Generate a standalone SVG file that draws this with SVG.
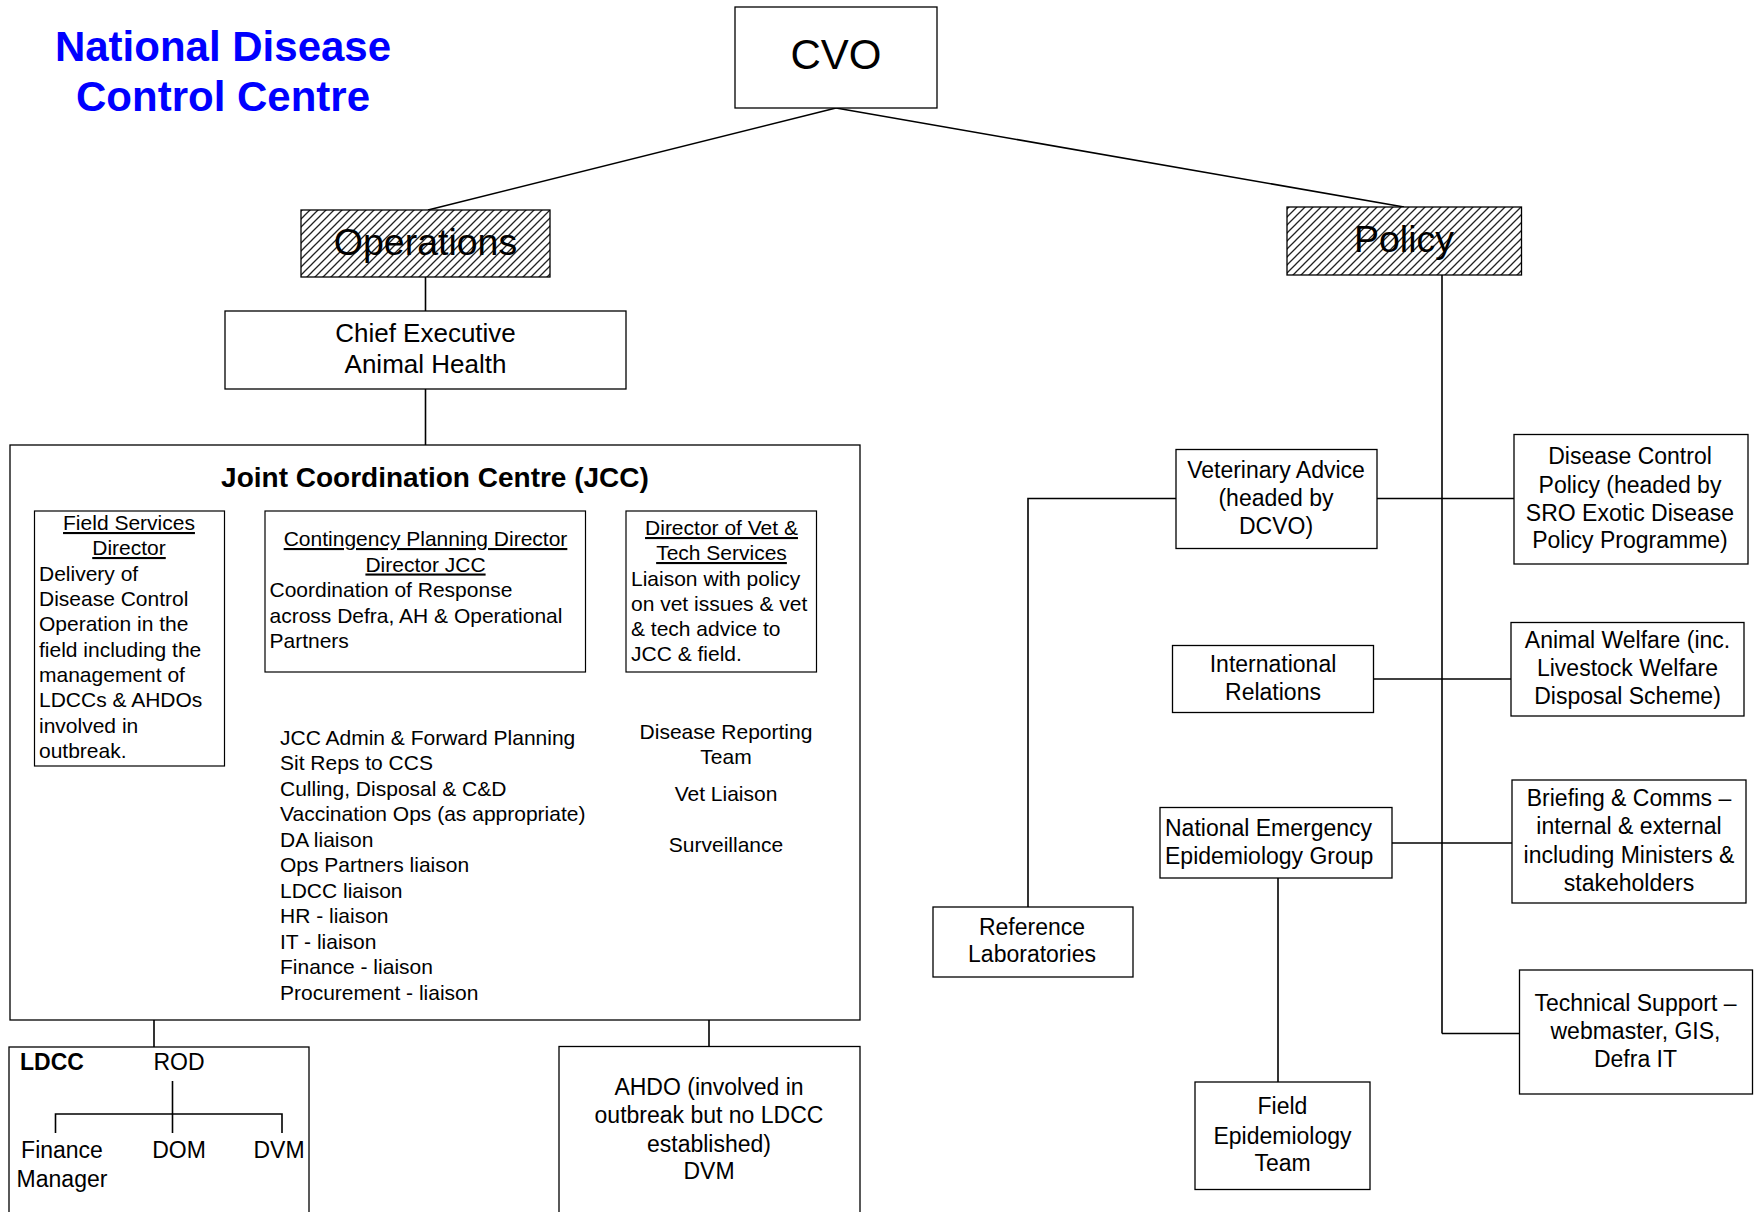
<svg xmlns="http://www.w3.org/2000/svg" width="1754" height="1212" viewBox="0 0 1754 1212">
<defs>
<pattern id="hatch" width="8" height="8" patternUnits="userSpaceOnUse">
<rect width="8" height="8" fill="#fff"/>
<path d="M-1,1 l2,-2 M0,8 l8,-8 M7,9 l2,-2" stroke="#222" stroke-width="1.3"/>
</pattern>
</defs>
<style>
text{font-family:"Liberation Sans",Arial,sans-serif;fill:#000}
.box{fill:#fff;stroke:#000;stroke-width:1.3}
.sub{fill:#fff;stroke:#000;stroke-width:1.2}
.hat{fill:url(#hatch);stroke:#000;stroke-width:1.3}
.ln{stroke:#000;stroke-width:1.6;fill:none}
.t21{font-size:21px}
.t23{font-size:23px}
.c{text-anchor:middle}
.u{text-decoration:underline}
.title{font-size:42px;font-weight:bold;fill:#0000ff;text-anchor:middle}
</style>
<rect width="1754" height="1212" fill="#fff"/>

<g id="title">
<text class="title" x="223" y="61">National Disease</text>
<text class="title" x="223" y="111">Control Centre</text>
</g>

<g id="connectors">
<line class="ln" x1="836" y1="108" x2="428" y2="210" stroke-width="1.3"/>
<line class="ln" x1="836" y1="108" x2="1404" y2="207" stroke-width="2"/>
<line class="ln" x1="425.5" y1="277" x2="425.5" y2="311"/>
<line class="ln" x1="425.5" y1="389" x2="425.5" y2="445"/>
<line class="ln" x1="154" y1="1020" x2="154" y2="1047"/>
<line class="ln" x1="709" y1="1020" x2="709" y2="1046"/>
<line class="ln" x1="1442" y1="275" x2="1442" y2="1033.5"/>
<line class="ln" x1="1442" y1="1033.5" x2="1519" y2="1033.5"/>
<polyline class="ln" points="1176,498.5 1028,498.5 1028,907"/>
<line class="ln" x1="1377" y1="498.5" x2="1514" y2="498.5"/>
<line class="ln" x1="1373" y1="679" x2="1511" y2="679"/>
<line class="ln" x1="1392" y1="843" x2="1512" y2="843"/>
<line class="ln" x1="1278" y1="878" x2="1278" y2="1082"/>
</g>

<g id="cvo">
<rect class="box" x="735" y="7" width="202" height="101"/>
<text x="836" y="69" font-size="42" class="c">CVO</text>
</g>

<g id="operations">
<rect class="hat" x="301" y="210" width="249" height="67"/>
<text x="425.5" y="255" font-size="37.5" class="c">Operations</text>
</g>

<g id="policy">
<rect class="hat" x="1287" y="207" width="234.5" height="68"/>
<text x="1404" y="251.5" font-size="37.5" class="c">Policy</text>
</g>

<g id="chief-exec">
<rect class="box" x="225" y="311" width="401" height="78"/>
<text x="425.5" y="342" font-size="26" class="c">Chief Executive</text>
<text x="425.5" y="373" font-size="26" class="c">Animal Health</text>
</g>

<g id="jcc">
<rect class="box" x="10" y="445" width="850" height="575"/>
<text x="435" y="487" font-size="28" font-weight="bold" class="c">Joint Coordination Centre (JCC)</text>
</g>

<g id="field-services">
<rect class="sub" x="34.5" y="511" width="190" height="255"/>
<text class="t21 c u" x="129" y="530">Field Services</text>
<text class="t21 c u" x="129" y="555">Director</text>
<text class="t21" x="39" y="580.5">Delivery of</text>
<text class="t21" x="39" y="606">Disease Control</text>
<text class="t21" x="39" y="631">Operation in the</text>
<text class="t21" x="39" y="656.5">field including the</text>
<text class="t21" x="39" y="682">management of</text>
<text class="t21" x="39" y="707">LDCCs &amp; AHDOs</text>
<text class="t21" x="39" y="732.5">involved in</text>
<text class="t21" x="39" y="758">outbreak.</text>
</g>

<g id="contingency">
<rect class="sub" x="265" y="511" width="320.5" height="161"/>
<text class="t21 c u" x="425.5" y="546">Contingency Planning Director</text>
<text class="t21 c u" x="425.5" y="571.5">Director JCC</text>
<text class="t21" x="269.5" y="597">Coordination of Response</text>
<text class="t21" x="269.5" y="622.5">across Defra, AH &amp; Operational</text>
<text class="t21" x="269.5" y="647.5">Partners</text>
</g>

<g id="vet-tech">
<rect class="sub" x="626" y="511" width="190.5" height="161"/>
<text class="t21 c u" x="721.5" y="535">Director of Vet &amp;</text>
<text class="t21 c u" x="721.5" y="560">Tech Services</text>
<text class="t21" x="631" y="585.5">Liaison with policy</text>
<text class="t21" x="631" y="610.5">on vet issues &amp; vet</text>
<text class="t21" x="631" y="636">&amp; tech advice to</text>
<text class="t21" x="631" y="661">JCC &amp; field.</text>
</g>

<g id="jcc-functions">
<text class="t21" x="280" y="744.5">JCC Admin &amp; Forward Planning</text>
<text class="t21" x="280" y="770">Sit Reps to CCS</text>
<text class="t21" x="280" y="795.5">Culling, Disposal &amp; C&amp;D</text>
<text class="t21" x="280" y="821">Vaccination Ops (as appropriate)</text>
<text class="t21" x="280" y="846.5">DA liaison</text>
<text class="t21" x="280" y="872">Ops Partners liaison</text>
<text class="t21" x="280" y="897.5">LDCC liaison</text>
<text class="t21" x="280" y="923">HR - liaison</text>
<text class="t21" x="280" y="948.5">IT - liaison</text>
<text class="t21" x="280" y="974">Finance - liaison</text>
<text class="t21" x="280" y="999.5">Procurement - liaison</text>
</g>

<g id="jcc-vet-functions">
<text class="t21 c" x="726" y="739">Disease Reporting</text>
<text class="t21 c" x="726" y="764">Team</text>
<text class="t21 c" x="726" y="801">Vet Liaison</text>
<text class="t21 c" x="726" y="851.5">Surveillance</text>
</g>

<g id="ldcc">
<rect class="box" x="9" y="1047" width="300" height="175"/>
<text x="20" y="1070" font-size="23" font-weight="bold">LDCC</text>
<text class="t23 c" x="179" y="1070">ROD</text>
<line class="ln" x1="172.5" y1="1081" x2="172.5" y2="1133"/>
<polyline class="ln" points="55.5,1133 55.5,1114 282,1114 282,1133"/>
<text class="t23 c" x="62" y="1158">Finance</text>
<text class="t23 c" x="62" y="1187">Manager</text>
<text class="t23 c" x="179" y="1158">DOM</text>
<text class="t23 c" x="279" y="1158">DVM</text>
</g>

<g id="ahdo">
<rect class="box" x="559" y="1046.5" width="301" height="175"/>
<text class="t23 c" x="709" y="1095">AHDO (involved in</text>
<text class="t23 c" x="709" y="1123">outbreak but no LDCC</text>
<text class="t23 c" x="709" y="1151.5">established)</text>
<text class="t23 c" x="709" y="1179">DVM</text>
</g>

<g id="vet-advice">
<rect class="box" x="1176" y="449.5" width="201" height="99"/>
<text class="t23 c" x="1276" y="477.5">Veterinary Advice</text>
<text class="t23 c" x="1276" y="506">(headed by</text>
<text class="t23 c" x="1276" y="534">DCVO)</text>
</g>

<g id="disease-control-policy">
<rect class="box" x="1514" y="434.5" width="234" height="129.5"/>
<text class="t23 c" x="1630" y="464">Disease Control</text>
<text class="t23 c" x="1630" y="492.5">Policy (headed by</text>
<text class="t23 c" x="1630" y="520.5">SRO Exotic Disease</text>
<text class="t23 c" x="1630" y="548">Policy Programme)</text>
</g>

<g id="international-relations">
<rect class="box" x="1172.5" y="645.5" width="201" height="67"/>
<text class="t23 c" x="1273" y="672">International</text>
<text class="t23 c" x="1273" y="700">Relations</text>
</g>

<g id="animal-welfare">
<rect class="box" x="1511" y="622.5" width="233" height="93.5"/>
<text class="t23 c" x="1627.5" y="647.5">Animal Welfare (inc.</text>
<text class="t23 c" x="1627.5" y="676">Livestock Welfare</text>
<text class="t23 c" x="1627.5" y="703.5">Disposal Scheme)</text>
</g>

<g id="neeg">
<rect class="box" x="1160" y="807.5" width="232" height="70.5"/>
<text class="t23" x="1165" y="836">National Emergency</text>
<text class="t23" x="1165" y="863.5">Epidemiology Group</text>
</g>

<g id="briefing">
<rect class="box" x="1512" y="780" width="234" height="123"/>
<text class="t23 c" x="1629" y="805.5">Briefing &amp; Comms –</text>
<text class="t23 c" x="1629" y="834">internal &amp; external</text>
<text class="t23 c" x="1629" y="862.5">including Ministers &amp;</text>
<text class="t23 c" x="1629" y="891">stakeholders</text>
</g>

<g id="technical-support">
<rect class="box" x="1519.5" y="970" width="233" height="124"/>
<text class="t23 c" x="1635.5" y="1011">Technical Support –</text>
<text class="t23 c" x="1635.5" y="1039">webmaster, GIS,</text>
<text class="t23 c" x="1635.5" y="1066.5">Defra IT</text>
</g>

<g id="reference-labs">
<rect class="box" x="933" y="907" width="200" height="70"/>
<text class="t23 c" x="1032" y="935">Reference</text>
<text class="t23 c" x="1032" y="962">Laboratories</text>
</g>

<g id="field-epi">
<rect class="box" x="1195" y="1082" width="175" height="107.5"/>
<text class="t23 c" x="1282.5" y="1113.5">Field</text>
<text class="t23 c" x="1282.5" y="1143.5">Epidemiology</text>
<text class="t23 c" x="1282.5" y="1171">Team</text>
</g>
</svg>
